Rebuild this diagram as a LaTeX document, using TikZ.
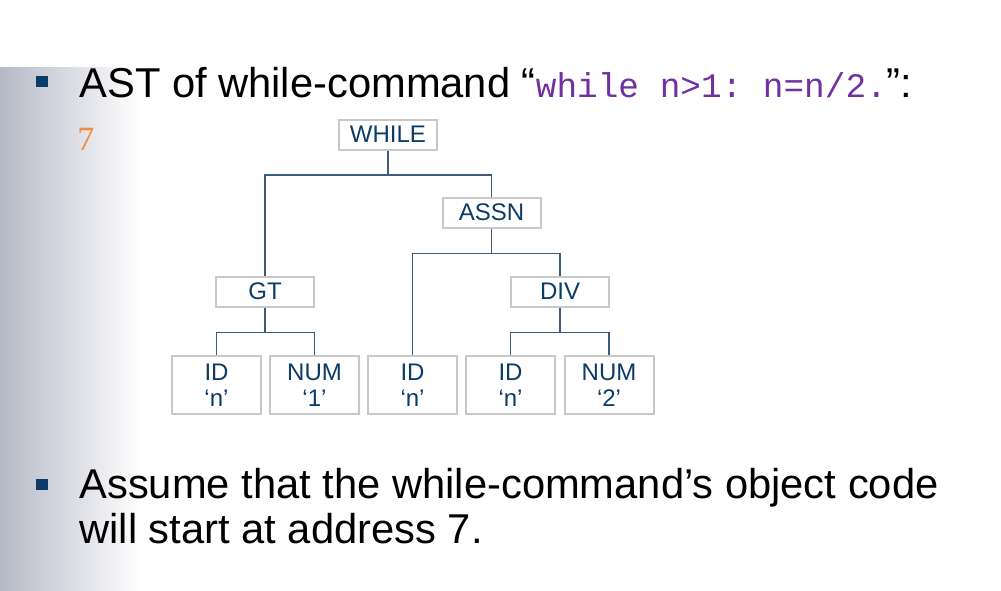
\documentclass[tikz,border=0pt]{standalone}
\usepackage{fontspec}
\setmainfont{Liberation Sans}
\setmonofont{Liberation Mono}
\newfontfamily\timesfont{Liberation Serif}
\definecolor{astnavy}{HTML}{0B3B66}
\definecolor{linkblue}{HTML}{3D5B7A}
\definecolor{boxgray}{HTML}{C8C8C8}
\definecolor{codepurple}{HTML}{7030A0}
\definecolor{addrorange}{HTML}{F58A3A}
\definecolor{bandgray}{HTML}{B5B9C6}

\begin{document}
\begin{tikzpicture}[x=0.5pt, y=-0.5pt,
    opbox/.style={draw=boxgray, line width=1pt, fill=white, minimum width=49pt,
        minimum height=15pt, inner sep=0pt, text=astnavy, font=\fontsize{12}{13}\selectfont},
    leafbox/.style={opbox, minimum width=44.5pt, minimum height=29pt, align=center},
    link/.style={draw=linkblue, line width=0.8pt},
    bulletsq/.style={fill=astnavy, minimum width=6pt, minimum height=5.5pt, inner sep=0pt},
    bigtext/.style={anchor=base west, inner sep=0pt, font=\fontsize{20.85}{22.5}\selectfont}]
            \useasboundingbox (0, 0) rectangle (1001, 590);
            \shade[left color=bandgray, right color=white] (0, 67) rectangle (140, 590);
            \node[bulletsq] (b1) at (42, 81.5) {};
            \node[bigtext] (title) at (79, 97) {AST of while-command “\textcolor{codepurple}{\fontsize{17.2}{18}\selectfont\texttt{while n>1: n=n/2.}}”:};
            \node[anchor=base west, inner sep=0pt, text=addrorange, font=\timesfont\fontsize{17}{18}\selectfont] (addr) at (77, 150) {7};
            \node[opbox] (while) at (388, 134.5) {WHILE};
            \node[opbox] (assn) at (491.5, 212.5) {ASSN};
            \node[opbox] (gt) at (265, 291.5) {GT};
            \node[opbox] (div) at (560, 291.5) {DIV};
            \node[leafbox] (id1) at (216.5, 385) {ID\\‘n’};
            \node[leafbox] (num1) at (314.5, 385) {NUM\\‘1’};
            \node[leafbox] (id2) at (412.5, 385) {ID\\‘n’};
            \node[leafbox] (id3) at (510.5, 385) {ID\\‘n’};
            \node[leafbox] (num2) at (609, 385) {NUM\\‘2’};
            \draw[link] (while.south) -- ++(0, 24.5) -| (gt.north);
            \draw[link] (while.south) -- ++(0, 24.5) -| (assn.north);
            \draw[link] (assn.south) -- ++(0, 25) -| (id2.north);
            \draw[link] (assn.south) -- ++(0, 25) -| (div.north);
            \draw[link] (gt.south) -- ++(0, 25) -| (id1.north);
            \draw[link] (gt.south) -- ++(0, 25) -| (num1.north);
            \draw[link] (div.south) -- ++(0, 25) -| (id3.north);
            \draw[link] (div.south) -- ++(0, 25) -| (num2.north);
            \node[bulletsq] (b2) at (42, 484) {};
            \node[bigtext] (assume1) at (79, 498) {Assume that the while-command’s object code};
            \node[bigtext] (assume2) at (79, 543) {will start at address 7.};
        \end{tikzpicture}
\end{document}
